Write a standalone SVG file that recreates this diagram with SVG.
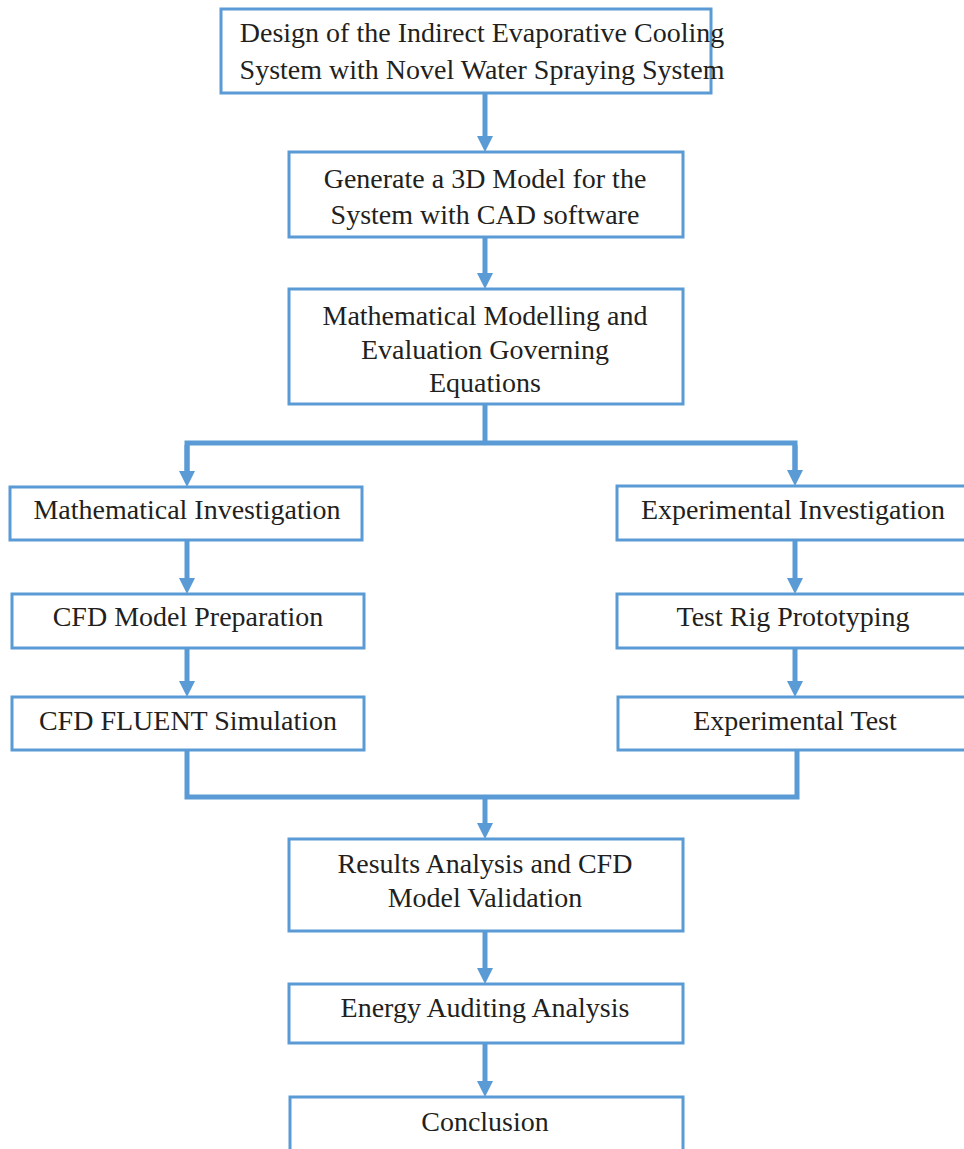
<svg xmlns="http://www.w3.org/2000/svg" width="964" height="1149" viewBox="0 0 964 1149">
<defs>
<style>
.box{fill:#fff;stroke:#5B9BD5;stroke-width:3}
.t{font-family:"Liberation Serif","Times New Roman",serif;font-size:28px;fill:#231F20;text-anchor:middle}
.c{fill:none;stroke:#5B9BD5;stroke-width:5}
.a{stroke:#5B9BD5;stroke-width:5;marker-end:url(#ah)}
</style>
<marker id="ah" markerUnits="userSpaceOnUse" markerWidth="16" markerHeight="16" refX="6" refY="8" orient="auto">
<path d="M0,0 L16,8 L0,16 z" fill="#5B9BD5"/>
</marker>
</defs>
<rect width="964" height="1149" fill="#fff"/>
<g id="connectors">
<line class="a" x1="485" y1="93" x2="485" y2="142"/>
<line class="a" x1="485" y1="237" x2="485" y2="279"/>
<polyline class="c" points="485,404 485,443"/>
<polyline class="c" points="187,477 187,443 795,443 795,477"/>
<line class="a" x1="187" y1="445" x2="187" y2="477"/>
<line class="a" x1="795" y1="445" x2="795" y2="476"/>
<line class="a" x1="187" y1="540" x2="187" y2="584"/>
<line class="a" x1="187" y1="648" x2="187" y2="687"/>
<line class="a" x1="795" y1="540" x2="795" y2="584"/>
<line class="a" x1="795" y1="648" x2="795" y2="687"/>
<polyline class="c" points="187,750 187,797 797,797 797,750"/>
<line class="a" x1="485" y1="797" x2="485" y2="829"/>
<line class="a" x1="485" y1="931" x2="485" y2="974"/>
<line class="a" x1="485" y1="1043" x2="485" y2="1087"/>
</g>
<g id="n1"><rect class="box" x="221" y="9" width="490" height="84"/>
<text class="t" x="482" y="42">Design of the Indirect Evaporative  Cooling</text>
<text class="t" x="482" y="79">System  with Novel Water Spraying  System</text></g>
<g id="n2"><rect class="box" x="289" y="152" width="394" height="85"/>
<text class="t" x="485" y="188">Generate a 3D Model for the</text>
<text class="t" x="485" y="224">System with CAD software</text></g>
<g id="n3"><rect class="box" x="289" y="289" width="394" height="115"/>
<text class="t" x="485" y="325">Mathematical  Modelling and</text>
<text class="t" x="485" y="359">Evaluation  Governing</text>
<text class="t" x="485" y="392">Equations</text></g>
<g id="n4"><rect class="box" x="10" y="487" width="352" height="53"/>
<text class="t" x="187" y="519">Mathematical  Investigation</text></g>
<g id="n5"><rect class="box" x="12" y="594" width="352" height="54"/>
<text class="t" x="188" y="626">CFD Model Preparation</text></g>
<g id="n6"><rect class="box" x="12" y="697" width="352" height="53"/>
<text class="t" x="188" y="730">CFD FLUENT Simulation</text></g>
<g id="n7"><rect class="box" x="617" y="486" width="360" height="54"/>
<text class="t" x="793" y="519">Experimental  Investigation</text></g>
<g id="n8"><rect class="box" x="617" y="594" width="360" height="54"/>
<text class="t" x="793" y="626">Test Rig Prototyping</text></g>
<g id="n9"><rect class="box" x="618" y="697" width="360" height="53"/>
<text class="t" x="795" y="730">Experimental  Test</text></g>
<g id="n10"><rect class="box" x="289" y="839" width="394" height="92"/>
<text class="t" x="485" y="873">Results Analysis  and CFD</text>
<text class="t" x="485" y="907">Model Validation</text></g>
<g id="n11"><rect class="box" x="289" y="984" width="394" height="59"/>
<text class="t" x="485" y="1017">Energy  Auditing  Analysis</text></g>
<g id="n12"><rect class="box" x="290" y="1097" width="393" height="60"/>
<text class="t" x="485" y="1131">Conclusion</text></g>
</svg>
